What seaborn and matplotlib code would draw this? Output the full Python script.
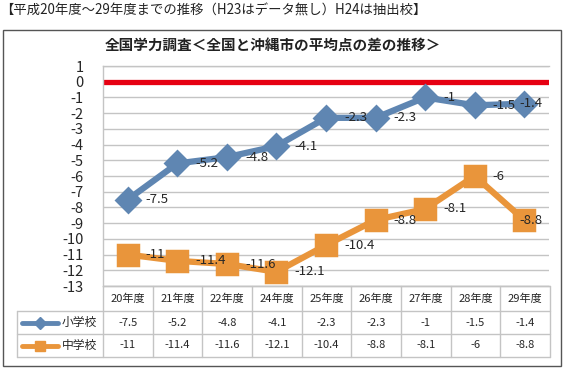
import matplotlib.pyplot as plt
import pandas as pd
import seaborn as sns
from matplotlib.lines import Line2D
from matplotlib.patches import Rectangle

# data
years = ['20年度', '21年度', '22年度', '24年度', '25年度', '26年度', '27年度', '28年度', '29年度']
elementary = [-7.5, -5.2, -4.8, -4.1, -2.3, -2.3, -1, -1.5, -1.4]
junior = [-11, -11.4, -11.6, -12.1, -10.4, -8.8, -8.1, -6, -8.8]
school_names = ['小学校', '中学校']
y_ticks = list(range(1, -14, -1))

note = '【平成20年度～29年度までの推移（H23はデータ無し）H24は抽出校】'
title = '全国学力調査＜全国と沖縄市の平均点の差の推移＞'

blue = '#5f86b2'
orange = '#e9953b'
red = '#e60012'
grid_col = '#c4c4c4'
text_col = '#262626'

W, H = 563, 370


def fx(px):
    return px / W


def fy(py):
    return 1 - py / H


sns.set_style('white')
plt.rcParams['font.family'] = ['Noto Sans CJK JP', 'DejaVu Sans']
plt.rcParams['axes.unicode_minus'] = False

fig = plt.figure(figsize=(W / 100, H / 100), dpi=100)

# outer frame + note on top
fig.add_artist(Rectangle((fx(3), fy(366)), fx(561) - fx(3), fy(30) - fy(366),
                         transform=fig.transFigure, fill=False, ec='#555555', lw=1))
fig.text(fx(0), fy(11), note, fontsize=9.6, color='#222222', va='center', ha='left')
fig.text(fx(273), fy(45), title, fontsize=10.5, fontweight='bold', color='#222222',
         va='center', ha='center')

left, right, top, bottom = 103, 549, 66, 286
ax = fig.add_axes([fx(left), fy(bottom), fx(right) - fx(left), fy(top) - fy(bottom)])

df = pd.DataFrame({
    'x': list(range(len(years))) * 2,
    'value': elementary + junior,
    'school': [school_names[0]] * len(years) + [school_names[1]] * len(years),
})

styles = {
    school_names[0]: dict(color=blue, marker='D', markersize=12, mew=2, lw=4.5),
    school_names[1]: dict(color=orange, marker='s', markersize=14, mew=2.5, lw=4.5),
}

ax.axhline(0, color=red, lw=3.8, zorder=2)

for name in school_names:
    st = styles[name]
    sub = df[df['school'] == name]
    sns.lineplot(data=sub, x='x', y='value', ax=ax, color=st['color'], lw=st['lw'],
                 marker=st['marker'], markersize=st['markersize'], mec=st['color'],
                 mew=st['mew'], solid_joinstyle='round', legend=False, zorder=3)
    for i, v in enumerate(sub['value']):
        lab = '{:g}'.format(v)
        if i == len(years) - 1:
            ax.annotate(lab, (i, v), xytext=(5, 0), textcoords='offset points',
                        ha='center', va='center', fontsize=9.5, color=text_col, zorder=4)
        else:
            ax.annotate(lab, (i, v), xytext=(13, 0), textcoords='offset points',
                        ha='left', va='center', fontsize=9.5, color=text_col, zorder=4)

ax.set_xlim(-0.5, len(years) - 0.5)
ax.set_ylim(-13, 1)
ax.set_yticks(y_ticks)
ax.set_yticklabels([str(t) for t in y_ticks])
ax.set_xticks([])
ax.set_xlabel('')
ax.set_ylabel('')
ax.yaxis.grid(True, color=grid_col, lw=1)
ax.tick_params(axis='y', length=0, pad=14, labelsize=10.5, labelcolor=text_col)
for side in ['left', 'top', 'bottom']:
    ax.spines[side].set_color(grid_col)
    ax.spines[side].set_linewidth(1)
ax.spines['right'].set_visible(False)

# data table under the plot
col_w = (right + 1 - left) / len(years)
col_x = [left + i * col_w for i in range(len(years) + 1)]
tbl_left = 17
row_y = [286, 311, 334, 357]


def fline(xs, ys):
    fig.add_artist(Line2D([fx(x) for x in xs], [fy(y) for y in ys],
                          transform=fig.transFigure, color=grid_col, lw=1))


for x in col_x:
    fline([x, x], [row_y[0], row_y[-1]])
fline([tbl_left, tbl_left], [row_y[1], row_y[-1]])
fline([col_x[0], col_x[-1]], [row_y[0], row_y[0]])
for y in row_y[1:]:
    fline([tbl_left, col_x[-1]], [y, y])

for i, yr in enumerate(years):
    cx = (col_x[i] + col_x[i + 1]) / 2
    fig.text(fx(cx), fy((row_y[0] + row_y[1]) / 2), yr, fontsize=8, color=text_col,
             ha='center', va='center')

for r, (name, vals) in enumerate(zip(school_names, [elementary, junior])):
    cy = (row_y[r + 1] + row_y[r + 2]) / 2
    st = styles[name]
    fig.add_artist(Line2D([fx(22), fx(58)], [fy(cy), fy(cy)], transform=fig.transFigure,
                          color=st['color'], lw=3.5, solid_capstyle='round'))
    fig.add_artist(Line2D([fx(40)], [fy(cy)], transform=fig.transFigure, color=st['color'],
                          marker=st['marker'], markersize=st['markersize'] * 0.55,
                          mec=st['color'], mew=1))
    fig.text(fx(97), fy(cy), name, fontsize=8.5, color=text_col, ha='right', va='center')
    for i, v in enumerate(vals):
        cx = (col_x[i] + col_x[i + 1]) / 2
        fig.text(fx(cx), fy(cy), '{:g}'.format(v), fontsize=8, color=text_col,
                 ha='center', va='center')

fig.savefig('out.png', dpi=100)
